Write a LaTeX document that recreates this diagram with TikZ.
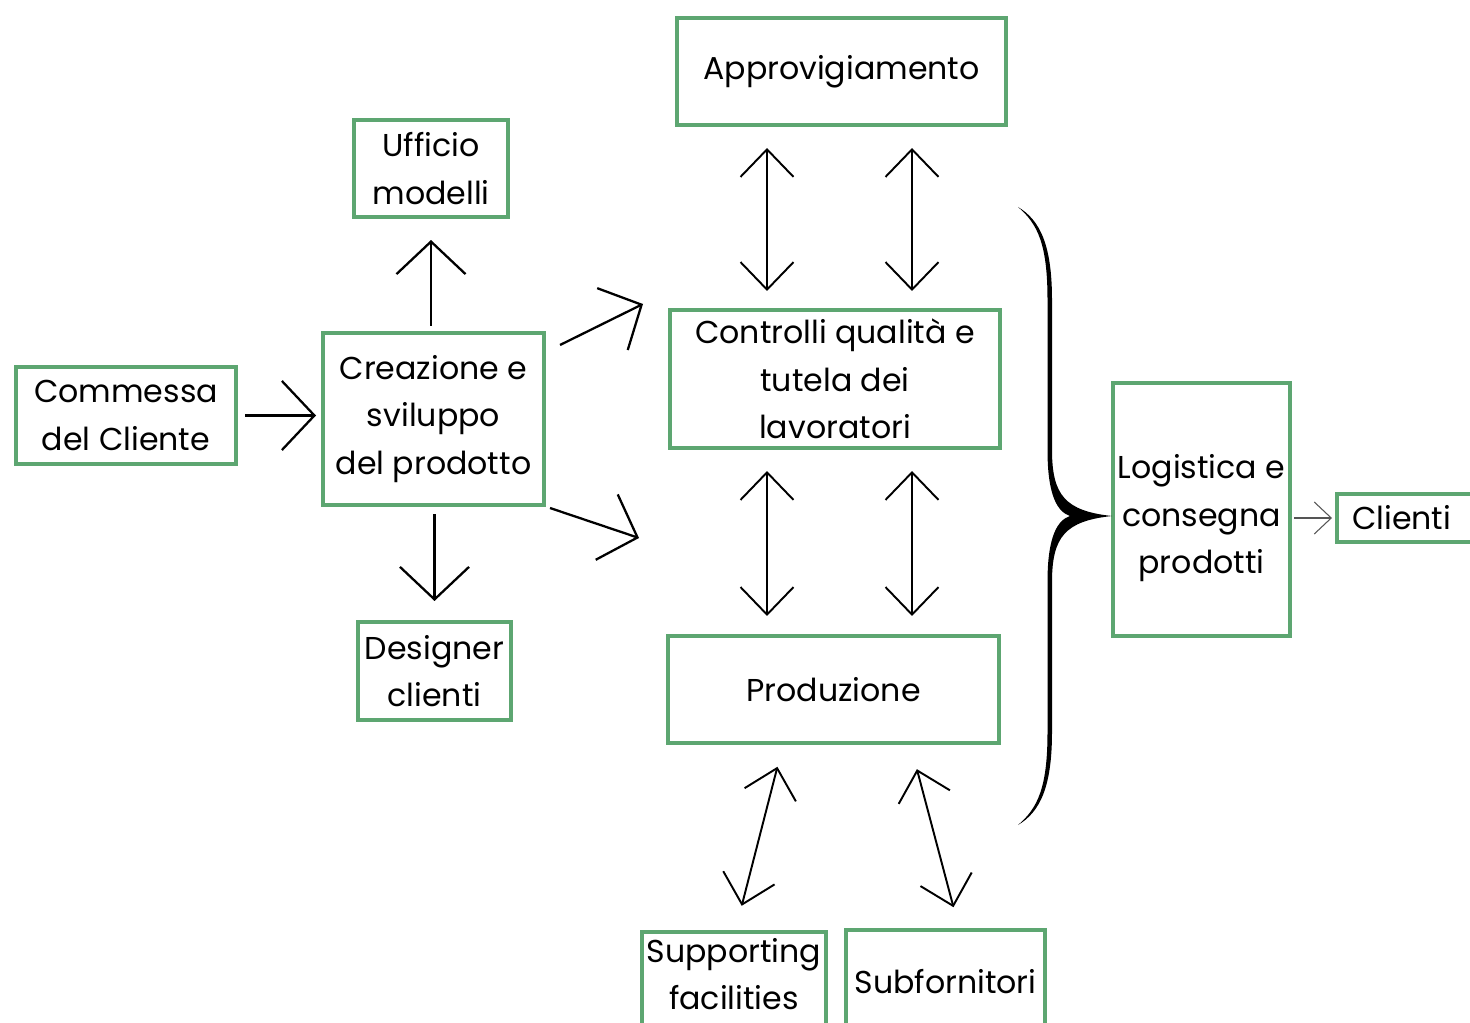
\documentclass[tikz,border=0pt]{standalone}
\usepackage{fontspec}
\setmainfont{Poppins}
\usetikzlibrary{arrows.meta}
\definecolor{boxgreen}{RGB}{93,166,113}
\definecolor{thingray}{RGB}{85,85,85}

\begin{document}
\begin{tikzpicture}[x=0.02cm, y=-0.02cm,
		box/.style={draw=boxgreen, line width=2.3pt, align=center, inner sep=0pt, font=\fontsize{18}{27}\selectfont},
		bigarrow/.style={-{Straight Barb[length=0.65cm, width=1.38cm]}, line width=1.3pt},
		dblarrow/.style={{Straight Barb[length=0.55cm, width=1.06cm]}-{Straight Barb[length=0.55cm, width=1.06cm]}, line width=1.1pt}]
		\useasboundingbox (0,0) rectangle (1470,1023);

		\node [box, minimum width=6.58cm, minimum height=2.14cm] (appr) at (841.5,71.5) {Approvigiamento};
		\node [box, minimum width=3.08cm, minimum height=1.94cm] (uff) at (431,168.5) {Ufficio\\modelli};
		\node [box, minimum width=4.4cm, minimum height=1.94cm] (comm) at (126,415.5) {Commessa\\del Cliente};
		\node [box, minimum width=4.42cm, minimum height=3.44cm] (crea) at (433.5,419) {Creazione e\\sviluppo\\del prodotto};
		\node [box, minimum width=6.6cm, minimum height=2.76cm] (ctrl) at (835,379) {Controlli qualità e\\tutela dei\\lavoratori};
		\node [box, minimum width=3.06cm, minimum height=1.96cm] (des) at (434.5,671) {Designer\\clienti};
		\node [box, minimum width=6.62cm, minimum height=2.14cm] (prod) at (833.5,689.5) {Produzione};
		\node [box, minimum width=3.54cm, minimum height=5.06cm,
			label={[align=center, font=\fontsize{18}{27}\selectfont, yshift=-0.18cm]center:Logistica e\\consegna\\prodotti}] (log) at (1201.5,509.5) {};
		\node [box, anchor=west, inner xsep=0.3cm, text width=2.9cm, align=left, minimum height=0.96cm] (cli) at (1335,518) {Clienti};
		\node [box, anchor=north, minimum width=3.68cm, inner ysep=0.12cm, text depth=0.6cm] (supp) at (734,930) {Supporting\\facilities};
		\node [box, minimum width=3.98cm, minimum height=2.08cm] (subf) at (945.5,982) {Subfornitori};

		\coordinate (colL) at (767,0);
		\coordinate (colR) at (912,0);
		\coordinate (up1) at (560,345);
		\coordinate (up2) at (643,304);
		\coordinate (dn1) at (550,508);
		\coordinate (dn2) at (639,538);

		\draw [bigarrow, shorten <=0.14cm, shorten >=0.1cm] (comm.east) -- (comm.east -| crea.west);
		\draw [bigarrow, shorten <=0.1cm, shorten >=0.42cm] (uff.south |- crea.north) -- (uff.south);
		\draw [bigarrow, shorten <=0.14cm, shorten >=0.38cm] (des.north |- crea.south) -- (des.north);
		\draw [bigarrow] (up1) -- (up2);
		\draw [bigarrow] (dn1) -- (dn2);

		\draw [dblarrow, shorten <=0.42cm, shorten >=0.34cm] (appr.south -| colL) -- (ctrl.north -| colL);
		\draw [dblarrow, shorten <=0.42cm, shorten >=0.34cm] (appr.south -| colR) -- (ctrl.north -| colR);
		\draw [dblarrow, shorten <=0.42cm, shorten >=0.36cm] (ctrl.south -| colL) -- (prod.north -| colL);
		\draw [dblarrow, shorten <=0.42cm, shorten >=0.36cm] (ctrl.south -| colR) -- (prod.north -| colR);
		\draw [dblarrow, shorten <=0.45cm, shorten >=0.5cm] ([xshift=-1.01cm]prod.south) -- ([xshift=0.03cm]supp.north);
		\draw [dblarrow, shorten <=0.5cm, shorten >=0.43cm] ([xshift=1.54cm]prod.south) -- ([xshift=0.27cm]subf.north);

		\draw [-{Straight Barb[length=0.34cm, width=0.64cm]}, thingray, line width=0.6pt, shorten <=0.04cm, shorten >=0.06cm] (log.east |- cli.west) -- (cli.west);

		\fill (1018,207) .. controls (1040,220) and (1052,245) .. (1052,300)
			-- (1052,450) .. controls (1052,495) and (1065,511) .. (1112,516)
			.. controls (1065,521) and (1052,537) .. (1052,582)
			-- (1052,732) .. controls (1052,787) and (1040,812) .. (1018,825)
			.. controls (1038,808) and (1047.5,787) .. (1047.5,732)
			-- (1047.5,582) .. controls (1047.5,535) and (1058,520) .. (1070,516)
			.. controls (1058,512) and (1047.5,497) .. (1047.5,450)
			-- (1047.5,300) .. controls (1047.5,245) and (1038,224) .. (1018,207) -- cycle;
\end{tikzpicture}
\end{document}
